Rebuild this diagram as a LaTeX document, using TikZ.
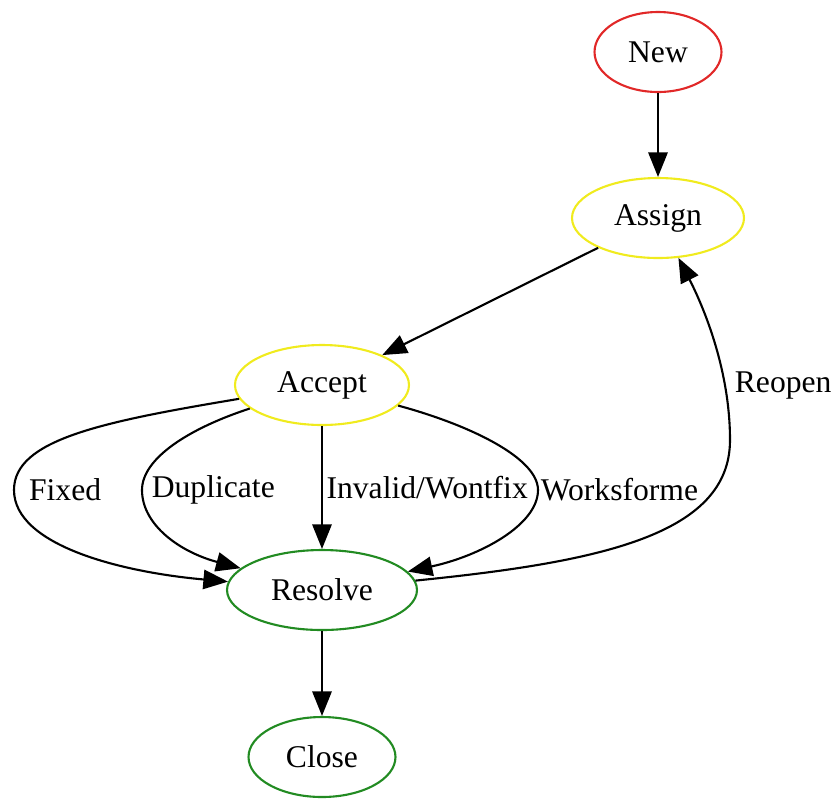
\documentclass[tikz,border=0pt]{standalone}
\usepackage{fontspec}
\setmainfont{Liberation Serif}
\usetikzlibrary{shapes.geometric,arrows.meta}
\definecolor{newred}{RGB}{225,40,40}
\definecolor{stepyellow}{RGB}{240,235,30}
\definecolor{donegreen}{RGB}{34,139,34}
\begin{document}
\begin{tikzpicture}[x=0.02cm, y=-0.02cm,
    state/.style={ellipse, draw, line width=1.2pt, minimum height=1.6cm, inner sep=0pt, font=\fontsize{18}{20}\selectfont},
    edge/.style={-{Triangle[length=14pt, width=11pt]}, line width=1.2pt},
    lbl/.style={font=\fontsize{18}{20}\selectfont, inner sep=2pt}]
    \useasboundingbox (0,0) rectangle (835,799);
    % States
    \node[state, draw=newred, minimum width=2.54cm] (new) at (658,52) {New};
    \node[state, draw=stepyellow, minimum width=3.44cm] (assign) at (658,218) {Assign};
    \node[state, draw=stepyellow, minimum width=3.48cm] (accept) at (322,385) {Accept};
    \node[state, draw=donegreen, minimum width=3.8cm] (resolve) at (322,590) {Resolve};
    \node[state, draw=donegreen, minimum width=2.94cm] (close) at (322,757) {Close};
    % Straight transitions
    \draw[edge] (new) -- (assign);
    \draw[edge] (assign) -- (accept);
    \draw[edge] (accept) -- (resolve) node[lbl, pos=0.5, anchor=west] (invalid) {Invalid/Wontfix};
    \draw[edge] (resolve) -- (close);
    % Fixed
    \draw[edge] (accept) .. controls (100,422) and (14,440) .. (14,490)
        node[lbl, anchor=west, xshift=6pt] (fixed) {Fixed}
        .. controls (14,545) and (120,572) .. (resolve);
    % Duplicate
    \draw[edge] (accept) .. controls (190,428) and (142,458) .. (142,490)
        node[lbl, anchor=west, xshift=3pt] (duplicate) {Duplicate}
        .. controls (142,525) and (180,552) .. (resolve);
    % Worksforme
    \draw[edge] (accept) .. controls (470,425) and (538,458) .. (538,490)
        node[lbl, anchor=west, xshift=-1pt] (worksforme) {Worksforme}
        .. controls (538,525) and (480,556) .. (resolve);
    % Reopen
    \draw[edge] (resolve) .. controls (600,562) and (730,535) .. (730,440)
        .. controls (730,365) and (700,300) .. (assign);
    \node[lbl, anchor=west] (reopen) at (731,386) {Reopen};
\end{tikzpicture}
\end{document}
